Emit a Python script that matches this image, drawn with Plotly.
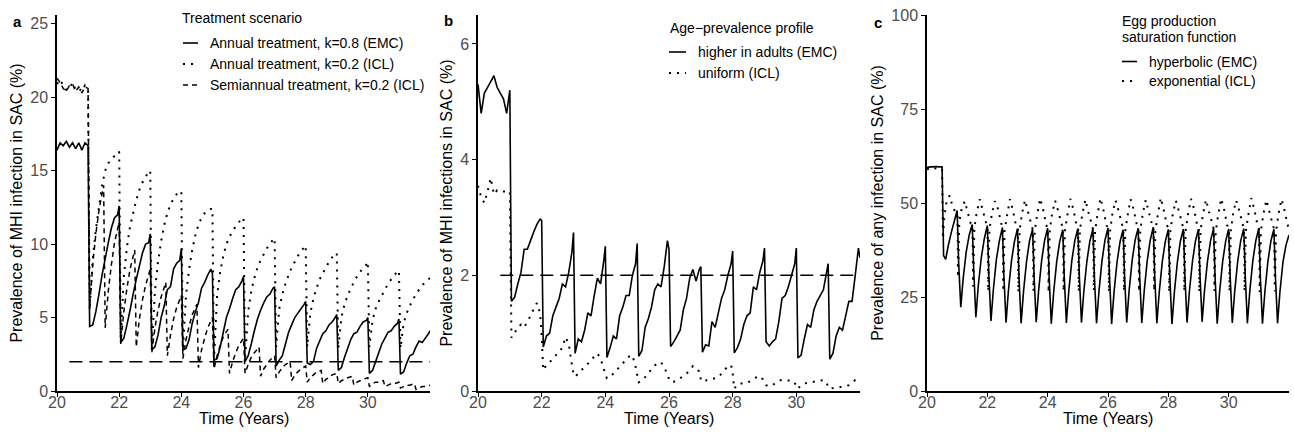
import plotly.graph_objects as go

W, H = 1294, 433
FONT = "Liberation Sans, Arial, Helvetica, sans-serif"

# ---------------- time grids (years) ----------------
PRE_TIMES_AB = [20.0, 20.1, 20.2, 20.3, 20.4, 20.5, 20.6, 20.7, 20.8, 20.9, 21.0]
TREATMENT_YEARS_AB = [21, 22, 23, 24, 25, 26, 27, 28, 29, 30, 31]
ANNUAL_OFFSETS = [0.05, 0.15, 0.25, 0.35, 0.45, 0.55, 0.65, 0.75, 0.85, 0.95, 1.0]
SEMIANNUAL_OFFSETS = [0.05, 0.15, 0.25, 0.35, 0.5, 0.55, 0.65, 0.75, 0.85, 1.0]

PRE_TIMES_C = [20.0, 20.1, 20.2, 20.3, 20.4, 20.5]
TREATMENT_TIMES_C = [20.5, 21.0, 21.5, 22.0, 22.5, 23.0, 23.5, 24.0, 24.5, 25.0, 25.5, 26.0,
                     26.5, 27.0, 27.5, 28.0, 28.5, 29.0, 29.5, 30.0, 30.5, 31.0, 31.5]
HYPERBOLIC_OFFSETS = [0.05, 0.12, 0.2, 0.3, 0.4, 0.5]
EXPONENTIAL_OFFSETS = [0.03, 0.07, 0.15, 0.25, 0.35, 0.45, 0.51]

# ---------------- panel a: MHI prevalence in SAC (%) ----------------
A_ANNUAL_K08_EMC = [
    16.4, 16.9, 16.7, 17.0, 16.6, 16.9, 16.5, 16.9, 16.4, 16.9, 16.7,   # pre 20-21
    4.4, 4.5, 5.4, 6.6, 7.9, 9.0, 10.1, 11.1, 11.8, 12.0, 12.6,        # 21
    3.3, 3.6, 4.5, 5.5, 6.6, 7.6, 8.5, 9.4, 10.0, 10.1, 10.7,          # 22
    2.8, 3.0, 3.8, 5.0, 5.8, 6.9, 7.1, 8.3, 8.7, 8.9, 9.7,             # 23
    2.8, 2.9, 3.5, 4.6, 5.4, 6.0, 7.0, 7.4, 7.9, 8.3, 8.0,             # 24
    2.1, 2.2, 3.0, 4.0, 5.0, 5.6, 6.3, 6.9, 7.1, 7.5, 7.8,             # 25
    2.0, 2.4, 3.2, 4.1, 4.9, 5.5, 6.0, 6.4, 6.6, 7.0, 7.1,             # 26
    1.7, 2.1, 2.4, 3.2, 4.0, 4.5, 5.0, 5.3, 5.6, 5.9, 6.1,             # 27
    1.9, 1.8, 2.0, 2.9, 3.4, 3.9, 4.1, 4.5, 4.7, 5.0, 5.2,             # 28
    1.4, 1.6, 2.3, 2.9, 3.5, 3.9, 4.0, 4.4, 4.7, 4.8, 5.0,             # 29
    1.2, 1.4, 2.0, 2.6, 3.2, 3.6, 4.0, 4.1, 4.4, 4.6, 4.9,             # 30
    1.15, 1.3, 1.9, 2.4, 2.5, 3.0, 3.4, 3.3, 3.6, 3.9, 4.1,            # 31
]
A_ANNUAL_K02_ICL = [
    20.9, 21.2, 20.8, 20.5, 20.6, 21.0, 20.5, 20.6, 20.4, 20.8, 20.5,  # pre 20-21
    5.5, 9.0, 11.0, 12.5, 14.0, 15.0, 15.5, 15.8, 16.0, 16.2, 16.3,    # 21
    3.6, 7.8, 9.8, 11.2, 12.1, 13.0, 13.7, 14.2, 14.6, 14.9, 15.0,     # 22
    2.8, 6.8, 8.8, 10.2, 11.3, 12.1, 12.7, 13.1, 13.4, 13.6, 13.6,     # 23
    2.8, 6.5, 8.3, 9.6, 10.6, 11.3, 11.8, 12.1, 12.3, 12.4, 12.4,      # 24
    2.1, 6.5, 8.1, 9.2, 10.0, 10.5, 10.9, 11.2, 11.5, 11.7, 11.8,      # 25
    2.1, 5.4, 6.8, 7.7, 8.4, 8.9, 9.3, 9.7, 10.0, 10.3, 10.4,          # 26
    3.0, 5.6, 6.6, 7.3, 7.9, 8.4, 8.8, 9.2, 9.5, 9.8, 9.9,             # 27
    3.0, 5.3, 6.3, 7.0, 7.6, 8.0, 8.4, 8.8, 9.1, 9.3, 9.4,             # 28
    2.9, 5.0, 5.9, 6.5, 7.0, 7.4, 7.8, 8.1, 8.4, 8.6, 8.8,             # 29
    3.0, 4.8, 5.6, 6.1, 6.5, 6.9, 7.3, 7.6, 7.9, 8.1, 8.2,             # 30
    2.9, 4.6, 5.3, 5.8, 6.2, 6.6, 6.9, 7.2, 7.4, 7.6, 7.7,             # 31
]
A_SEMIANNUAL_K02_ICL = [
    21.3, 21.0, 20.6, 20.4, 20.8, 20.9, 20.4, 20.7, 20.3, 20.7, 20.6,  # pre 20-21
    5.7, 8.6, 10.7, 12.3, 14.0, 4.3, 6.8, 8.6, 10.1, 11.5,            # 21
    3.2, 5.4, 7.0, 8.3, 9.6, 3.0, 4.9, 6.2, 7.2, 8.3,                 # 22
    2.6, 4.3, 5.5, 6.4, 7.4, 2.4, 3.8, 4.9, 5.7, 6.5,                 # 23
    2.2, 3.5, 4.4, 5.2, 5.9, 1.6, 2.8, 3.6, 4.3, 5.0,                 # 24
    1.5, 2.4, 3.1, 3.7, 4.2, 1.2, 2.0, 2.6, 3.1, 3.6,                 # 25
    1.2, 1.8, 2.3, 2.6, 3.0, 1.0, 1.5, 1.8, 2.1, 2.4,                 # 26
    0.9, 1.3, 1.6, 1.8, 2.0, 0.7, 1.1, 1.3, 1.5, 1.7,                 # 27
    0.6, 0.9, 1.1, 1.3, 1.4, 0.5, 0.8, 0.9, 1.1, 1.2,                 # 28
    0.5, 0.7, 0.8, 0.9, 1.0, 0.4, 0.6, 0.7, 0.8, 0.9,                 # 29
    0.3, 0.5, 0.6, 0.6, 0.7, 0.3, 0.4, 0.5, 0.5, 0.6,                 # 30
    0.2, 0.3, 0.4, 0.4, 0.5, 0.1, 0.2, 0.3, 0.3, 0.4,                 # 31
]

# ---------------- panel b: MHI prevalence in SAC (%) ----------------
B_HIGHER_IN_ADULTS_EMC = [
    5.3, 4.8, 5.15, 5.25, 5.35, 5.45, 5.25, 5.15, 5.05, 4.8, 5.2,      # pre 20-21
    1.55, 1.62, 1.85, 2.05, 2.45, 2.45, 2.6, 2.75, 2.88, 2.97, 2.95,   # 21
    0.76, 0.95, 1.0, 1.3, 1.45, 1.6, 1.85, 1.8, 2.05, 2.4, 2.74,       # 22
    0.65, 0.9, 0.85, 1.05, 1.35, 1.3, 1.65, 1.95, 1.85, 2.25, 2.5,     # 23
    0.58, 0.75, 0.95, 0.9, 1.3, 1.45, 1.65, 1.65, 2.0, 2.2, 2.55,      # 24
    0.6, 0.7, 1.1, 1.25, 1.45, 1.75, 1.85, 1.8, 2.15, 2.6, 2.45,       # 25
    0.77, 0.85, 0.95, 1.05, 1.4, 1.6, 1.95, 2.1, 1.9, 2.1, 2.15,       # 26
    0.67, 0.8, 0.78, 1.2, 1.1, 1.35, 1.6, 1.75, 2.0, 2.2, 2.42,        # 27
    0.66, 0.75, 0.9, 1.15, 1.3, 1.35, 1.8, 1.75, 2.05, 2.25, 2.47,     # 28
    0.85, 0.78, 0.85, 0.9, 1.2, 1.6, 1.65, 1.8, 2.0, 2.2, 2.47,        # 29
    0.57, 0.62, 0.9, 1.15, 1.1, 1.4, 1.55, 1.65, 1.75, 2.05, 2.2,      # 30
    0.55, 0.65, 0.95, 1.1, 1.05, 1.3, 1.55, 1.55, 2.0, 2.47, 2.3,      # 31
]
B_UNIFORM_ICL = [
    3.55, 3.35, 3.25, 3.45, 3.68, 3.4, 3.47, 3.45, 3.45, 3.45, 3.45,   # pre 20-21
    0.92, 1.0, 1.1, 1.15, 1.1, 1.2, 1.3, 1.42, 1.52, 1.35, 0.95,       # 21
    0.36, 0.45, 0.5, 0.55, 0.62, 0.68, 0.75, 0.93, 0.82, 0.45, 0.3,    # 22
    0.25, 0.3, 0.36, 0.42, 0.47, 0.52, 0.6, 0.65, 0.56, 0.39, 0.28,    # 23
    0.22, 0.24, 0.3, 0.36, 0.42, 0.48, 0.54, 0.6, 0.62, 0.42, 0.28,    # 24
    0.15, 0.18, 0.24, 0.3, 0.38, 0.44, 0.48, 0.5, 0.4, 0.3, 0.2,       # 25
    0.16, 0.16, 0.18, 0.22, 0.26, 0.3, 0.36, 0.43, 0.38, 0.34, 0.2,    # 26
    0.16, 0.18, 0.2, 0.21, 0.22, 0.24, 0.3, 0.37, 0.42, 0.45, 0.3,     # 27
    0.04, 0.12, 0.13, 0.13, 0.14, 0.17, 0.2, 0.24, 0.26, 0.2, 0.14,    # 28
    0.1, 0.08, 0.1, 0.14, 0.18, 0.19, 0.18, 0.18, 0.18, 0.15, 0.06,    # 29
    0.04, 0.1, 0.13, 0.14, 0.15, 0.16, 0.17, 0.18, 0.19, 0.15, 0.06,   # 30
    0.04, 0.05, 0.06, 0.07, 0.07, 0.08, 0.1, 0.14, 0.19, 0.19, 0.2,    # 31
]

# ---------------- panel c: any-infection prevalence in SAC (%) ----------------
C_HYPERBOLIC_EMC = [
    59.4, 59.6, 59.6, 59.7, 59.6, 59.6,     # pre 20-20.5
    36.0, 35.0, 38.5, 42.0, 45.0, 48.0,     # 20.5
    34.0, 22.3, 30.0, 37.0, 41.5, 44.3,     # 21.0
    32.0, 19.6, 28.0, 35.5, 40.5, 44.0,     # 21.5
    31.0, 18.6, 27.0, 35.0, 40.0, 43.5,     # 22.0
    30.5, 18.2, 26.8, 34.6, 39.8, 43.2,     # 22.5
    30.3, 18.0, 26.5, 34.5, 40.0, 43.0,     # 23.0
    30.5, 18.3, 26.7, 34.7, 40.1, 43.3,     # 23.5
    30.2, 17.9, 26.4, 34.4, 39.8, 42.9,     # 24.0
    30.4, 18.1, 26.6, 34.6, 40.0, 43.2,     # 24.5
    30.5, 18.2, 26.6, 34.5, 39.9, 43.1,     # 25.0
    30.3, 18.0, 26.5, 34.6, 40.1, 43.4,     # 25.5
    30.4, 17.8, 26.3, 34.3, 39.7, 42.9,     # 26.0
    30.6, 18.2, 26.7, 34.7, 40.2, 43.3,     # 26.5
    30.5, 18.1, 26.6, 34.6, 40.1, 43.6,     # 27.0
    30.3, 18.0, 26.4, 34.4, 39.8, 43.0,     # 27.5
    30.2, 17.8, 26.3, 34.3, 39.9, 43.1,     # 28.0
    30.5, 18.2, 26.6, 34.5, 39.9, 43.0,     # 28.5
    30.6, 18.4, 26.8, 34.6, 40.0, 43.2,     # 29.0
    30.3, 17.9, 26.4, 34.4, 39.8, 43.1,     # 29.5
    30.4, 18.1, 26.5, 34.5, 40.0, 43.2,     # 30.0
    30.5, 18.0, 26.5, 34.6, 40.0, 43.3,     # 30.5
    30.3, 17.9, 26.4, 34.4, 39.9, 43.0,     # 31.0
    30.4, 18.0, 26.4, 34.3, 38.8, 41.5,     # 31.5
]
C_EXPONENTIAL_ICL = [
    59.0, 59.2, 58.9, 59.3, 59.1, 59.0,           # pre 20-20.5
    40.5, 46.0, 50.5, 52.0, 49.0, 47.5, 47.0,     # 20.5
    30.2, 45.0, 48.5, 50.5, 47.5, 44.5, 44.0,     # 21.0
    27.8, 43.5, 47.5, 51.0, 48.0, 45.0, 43.5,     # 21.5
    26.5, 43.0, 47.0, 50.5, 48.5, 45.0, 43.0,     # 22.0
    26.5, 42.5, 46.5, 51.0, 48.0, 44.0, 43.0,     # 22.5
    26.3, 42.8, 47.2, 50.8, 47.6, 44.6, 42.8,     # 23.0
    26.6, 42.4, 46.8, 51.2, 48.2, 44.2, 43.1,     # 23.5
    26.2, 42.7, 47.4, 50.6, 47.8, 44.8, 42.9,     # 24.0
    26.5, 42.5, 46.6, 51.1, 48.4, 44.3, 43.0,     # 24.5
    26.4, 42.9, 47.1, 50.9, 47.5, 44.7, 42.7,     # 25.0
    26.7, 42.3, 46.9, 51.3, 48.1, 44.1, 43.2,     # 25.5
    26.3, 42.6, 47.3, 50.7, 47.9, 44.9, 42.8,     # 26.0
    26.5, 42.4, 46.7, 51.0, 48.3, 44.4, 43.0,     # 26.5
    26.4, 42.8, 47.0, 50.8, 47.7, 44.6, 42.9,     # 27.0
    26.6, 42.5, 46.8, 51.4, 48.0, 44.2, 43.1,     # 27.5
    26.2, 42.7, 47.2, 50.6, 47.8, 44.8, 42.8,     # 28.0
    26.5, 42.4, 46.9, 51.1, 48.5, 44.3, 43.0,     # 28.5
    26.3, 42.8, 47.1, 50.9, 47.6, 44.7, 42.9,     # 29.0
    26.6, 42.3, 46.8, 51.2, 48.2, 44.1, 43.1,     # 29.5
    26.4, 42.6, 47.3, 50.7, 47.9, 44.9, 42.8,     # 30.0
    26.5, 42.5, 46.7, 51.3, 48.3, 44.4, 43.0,     # 30.5
    26.3, 42.7, 47.0, 50.8, 47.7, 44.6, 42.9,     # 31.0
    26.5, 42.4, 46.9, 51.0, 48.1, 44.3, 43.0,     # 31.5
]

THRESHOLD_PCT = 2.0
THRESHOLD_SPAN_A = [20.4, 32.0]
THRESHOLD_SPAN_B = [20.7, 32.0]

LEGEND_A = ["Annual treatment, k=0.8 (EMC)", "Annual treatment, k=0.2 (ICL)",
            "Semiannual treatment, k=0.2 (ICL)"]
LEGEND_B = ["higher in adults (EMC)", "uniform (ICL)"]
LEGEND_C = ["hyperbolic (EMC)", "exponential (ICL)"]


def grid(pre, starts, offsets):
    return pre + [round(s + o, 3) for s in starts for o in offsets]


T_ANNUAL = grid(PRE_TIMES_AB, TREATMENT_YEARS_AB, ANNUAL_OFFSETS)
T_SEMI = grid(PRE_TIMES_AB, TREATMENT_YEARS_AB, SEMIANNUAL_OFFSETS)
T_HYP = grid(PRE_TIMES_C, TREATMENT_TIMES_C, HYPERBOLIC_OFFSETS)
T_EXP = grid(PRE_TIMES_C, TREATMENT_TIMES_C, EXPONENTIAL_OFFSETS)

for t, v in [(T_ANNUAL, A_ANNUAL_K08_EMC), (T_ANNUAL, A_ANNUAL_K02_ICL),
             (T_SEMI, A_SEMIANNUAL_K02_ICL), (T_ANNUAL, B_HIGHER_IN_ADULTS_EMC),
             (T_ANNUAL, B_UNIFORM_ICL), (T_HYP, C_HYPERBOLIC_EMC), (T_EXP, C_EXPONENTIAL_ICL)]:
    assert len(t) == len(v), (len(t), len(v))

SOLID = dict(color="black", width=1.6)
DOTTED = dict(color="black", width=2, dash="2px,6px")
DASHED = dict(color="black", width=1.5, dash="5px,4px")
THRESH = dict(color="black", width=1.5, dash="13px,7px")

fig = go.Figure()


def add(x, y, line, xa, ya, name):
    fig.add_trace(go.Scatter(x=x, y=y, mode="lines", line=dict(simplify=False, **line),
                             xaxis=xa, yaxis=ya, name=name, showlegend=False,
                             hoverinfo="skip"))


# panel a
add(THRESHOLD_SPAN_A, [THRESHOLD_PCT] * 2, THRESH, "x", "y", "2% threshold")
add(T_SEMI, A_SEMIANNUAL_K02_ICL, DASHED, "x", "y", LEGEND_A[2])
add(T_ANNUAL, A_ANNUAL_K02_ICL, DOTTED, "x", "y", LEGEND_A[1])
add(T_ANNUAL, A_ANNUAL_K08_EMC, SOLID, "x", "y", LEGEND_A[0])
# panel b
add(THRESHOLD_SPAN_B, [THRESHOLD_PCT] * 2, THRESH, "x2", "y2", "2% threshold")
add(T_ANNUAL, B_UNIFORM_ICL, DOTTED, "x2", "y2", LEGEND_B[1])
add(T_ANNUAL, B_HIGHER_IN_ADULTS_EMC, SOLID, "x2", "y2", LEGEND_B[0])
# panel c
add(T_EXP, C_EXPONENTIAL_ICL, DOTTED, "x3", "y3", LEGEND_C[1])
add(T_HYP, C_HYPERBOLIC_EMC, SOLID, "x3", "y3", LEGEND_C[0])


def px(v):
    return v / W


def py(v):
    return 1 - v / H


YDOM = [py(391), py(15)]
X_TICKS = [20, 22, 24, 26, 28, 30]


def xaxis(dom, anchor):
    return dict(domain=dom, anchor=anchor, range=[20, 32], tickvals=X_TICKS,
                showline=True, linecolor="black", linewidth=1.5, mirror=False,
                ticks="outside", ticklen=4, tickwidth=1.2, tickcolor="black",
                ticklabelstandoff=-8,
                showgrid=False, zeroline=False,
                tickfont=dict(family=FONT, size=16, color="#4d4d4d"),
                automargin=False)


def yaxis(rng, ticks, title, anchor):
    return dict(domain=YDOM, anchor=anchor, range=rng, tickvals=ticks,
                showline=True, linecolor="black", linewidth=1.5,
                ticks="outside", ticklen=4, tickwidth=1.2, tickcolor="black",
                showgrid=False, zeroline=False,
                tickfont=dict(family=FONT, size=16, color="#4d4d4d"),
                title=dict(text=title, font=dict(family=FONT, size=16, color="black"),
                           standoff=4),
                automargin=False)


fig.update_layout(
    width=W, height=H, margin=dict(l=0, r=0, t=0, b=0),
    paper_bgcolor="white", plot_bgcolor="white", showlegend=False,
    font=dict(family=FONT, color="black"),
    xaxis=xaxis([px(57), px(430)], "y"),
    yaxis=yaxis([0, 25.6], [0, 5, 10, 15, 20, 25], "Prevalence of MHI infection in SAC (%)", "x"),
    xaxis2=xaxis([px(478), px(860)], "y2"),
    yaxis2=yaxis([0, 6.5], [0, 2, 4, 6], "Prevalence of MHI infections in SAC (%)", "x2"),
    xaxis3=xaxis([px(927), px(1289)], "y3"),
    yaxis3=yaxis([0, 100], [0, 25, 50, 75, 100], "Prevalence of any infection in SAC (%)", "x3"),
)

annotations = []
shapes = []


def text(x, y, s, size=14, anchor="left"):
    annotations.append(dict(x=px(x), y=py(y), xref="paper", yref="paper", text=s,
                            showarrow=False, xanchor=anchor, yanchor="middle",
                            font=dict(family=FONT, size=size, color="black")))


def key(x0, x1, y, line):
    shapes.append(dict(type="line", xref="paper", yref="paper", x0=px(x0), x1=px(x1),
                       y0=py(y), y1=py(y), line=line))


# x-axis titles
for cx in [243.5, 669, 1108]:
    text(cx, 418.5, "Time (Years)", size=16, anchor="center")

# panel letters
text(11, 21.5, "<b>a</b>", size=15)
text(442, 20, "<b>b</b>", size=15)
text(872, 22.5, "<b>c</b>", size=15)

# legend a
text(180, 18, "Treatment scenario")
for yy, lab, ln in zip([43, 64, 85], LEGEND_A, [SOLID, DOTTED, DASHED]):
    key(183, 198, yy, ln)
    text(208, yy, lab)
# legend b
text(668, 28, "Age\u2212prevalence profile")
for yy, lab, ln in zip([52, 73], LEGEND_B, [SOLID, DOTTED]):
    key(669, 686, yy, ln)
    text(696, yy, lab)
# legend c
text(1120, 21, "Egg production")
text(1120, 37.5, "saturation function")
for yy, lab, ln in zip([61.5, 81], LEGEND_C, [SOLID, DOTTED]):
    key(1122, 1137, yy, ln)
    text(1147, yy, lab)

fig.update_layout(annotations=annotations, shapes=shapes)

fig.write_html("out.html", config={"displayModeBar": False},
               post_script="document.body.style.margin='0';")
